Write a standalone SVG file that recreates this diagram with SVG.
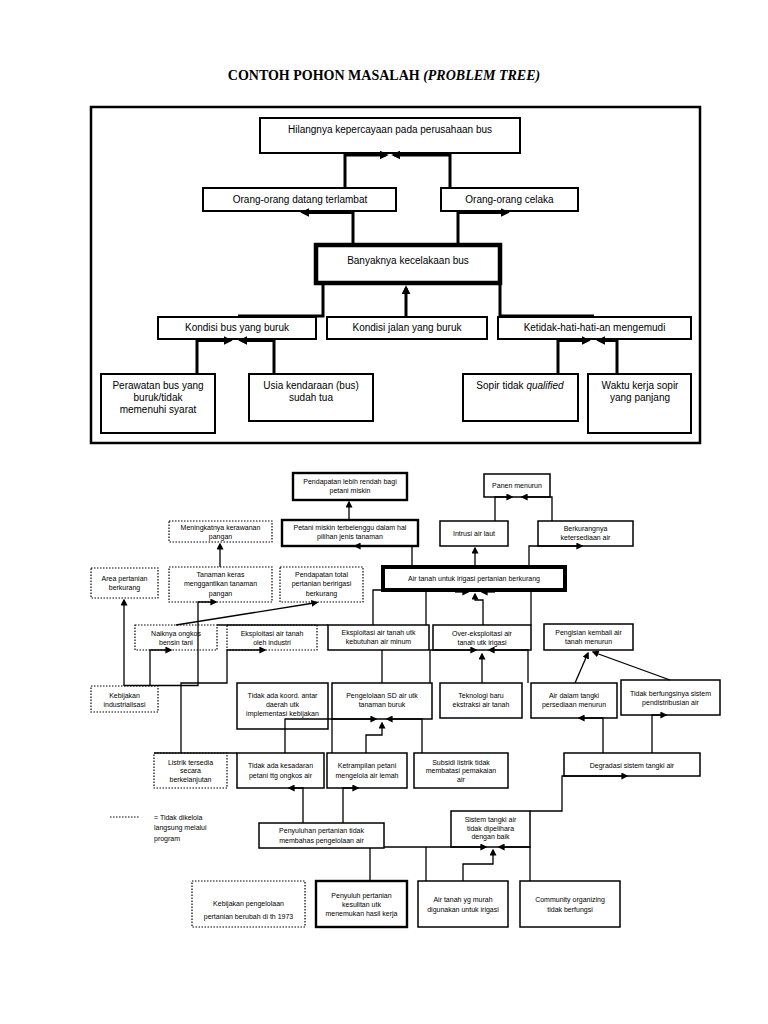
<svg xmlns="http://www.w3.org/2000/svg" width="768" height="1024" viewBox="0 0 768 1024">
<style>
.t{font-family:"Liberation Sans",Arial,sans-serif;font-size:10px;text-anchor:middle;fill:#000}
.s{font-size:7px}
.box{fill:#fff;stroke:#000;stroke-width:2}
.bx{fill:#fff;stroke:#000;stroke-width:1.5}
.hv{stroke-width:2.4}
.dot{fill:#fff;stroke:#000;stroke-width:1.2;stroke-dasharray:1.5 1.5}
.tc{fill:none;stroke:#000;stroke-width:3}
.bc{fill:none;stroke:#000;stroke-width:1.3}
</style>
<defs>
<marker id="ah" viewBox="0 0 10 10" refX="7" refY="5" markerWidth="9" markerHeight="9" markerUnits="userSpaceOnUse" orient="auto"><path d="M0,0 L10,5 L0,10 z" fill="#000"/></marker>
<marker id="as" viewBox="0 0 10 10" refX="8" refY="5" markerWidth="7" markerHeight="7" markerUnits="userSpaceOnUse" orient="auto"><path d="M0,0 L10,5 L0,10 z" fill="#000"/></marker>
</defs>
<rect width="768" height="1024" fill="#fff"/>
<text x="384" y="80" font-family="Liberation Serif,'Times New Roman',serif" font-weight="bold" font-size="14" text-anchor="middle">CONTOH POHON MASALAH <tspan font-style="italic">(PROBLEM TREE)</tspan></text>

<g id="frame"><rect x="91" y="107" width="609" height="336" fill="none" stroke="#000" stroke-width="2.5"/></g>

<g id="n_hilang"><rect class="box" x="260" y="118" width="260" height="35"/><text class="t" x="390" y="133">Hilangnya kepercayaan pada perusahaan bus</text></g>
<g id="n_datang"><rect class="box" x="203" y="188" width="193" height="23"/><text class="t" x="300" y="203">Orang-orang datang terlambat</text></g>
<g id="n_celaka"><rect class="box" x="441" y="188" width="137" height="23"/><text class="t" x="509.5" y="203">Orang-orang celaka</text></g>
<g id="n_banyak"><rect x="316" y="245" width="184" height="38" fill="#fff" stroke="#000" stroke-width="4.5"/><text class="t" x="408" y="264" font-size="12.5">Banyaknya kecelakaan bus</text></g>
<g id="n_kbus"><rect class="box" x="158" y="317" width="158" height="22"/><text class="t" x="237" y="331">Kondisi bus yang buruk</text></g>
<g id="n_kjalan"><rect class="box" x="327" y="317" width="160" height="22"/><text class="t" x="407" y="331">Kondisi jalan yang buruk</text></g>
<g id="n_ketidak"><rect class="box" x="498" y="317" width="193" height="22"/><text class="t" x="594.5" y="331">Ketidak-hati-hati-an mengemudi</text></g>
<g id="n_rawat"><rect class="box" x="101" y="374" width="114" height="59"/><text class="t" x="158" y="389">Perawatan bus yang</text><text class="t" x="158" y="401">buruk/tidak</text><text class="t" x="158" y="413">memenuhi syarat</text></g>
<g id="n_usia"><rect class="box" x="249" y="374" width="124" height="47"/><text class="t" x="311" y="389">Usia kendaraan (bus)</text><text class="t" x="311" y="401">sudah tua</text></g>
<g id="n_sopir"><rect class="box" x="463" y="374" width="115" height="47"/><text class="t" x="520" y="389">Sopir tidak <tspan font-style="italic">qualified</tspan></text></g>
<g id="n_waktu"><rect class="box" x="588" y="374" width="103" height="59"/><text class="t" x="640" y="389">Waktu kerja sopir</text><text class="t" x="640" y="401">yang panjang</text></g>

<g id="b_pendlebih"><rect class="bx hv" x="293" y="473" width="114" height="27"/><text class="t s" x="350" y="483.5">Pendapatan lebih rendah bagi</text><text class="t s" x="350" y="493">petani miskin</text></g>
<g id="b_petani"><rect class="bx hv" x="282" y="520" width="136" height="26"/><text class="t s" x="350" y="529.5">Petani miskin terbelenggu dalam hal</text><text class="t s" x="350" y="539">pilihan jenis tanaman</text></g>
<g id="b_rawan"><rect class="dot" x="169" y="521" width="103" height="21"/><text class="t s" x="220.5" y="529.5">Meningkatnya kerawanan</text><text class="t s" x="220.5" y="539">pangan</text></g>
<g id="b_panen"><rect class="bx" x="484" y="474" width="66" height="23"/><text class="t s" x="517" y="487.5">Panen menurun</text></g>
<g id="b_intrusi"><rect class="bx" x="440" y="521" width="68" height="25"/><text class="t s" x="474" y="535.5">Intrusi air laut</text></g>
<g id="b_berkurang"><rect class="bx" x="538" y="521" width="95" height="25"/><text class="t s" x="585.5" y="530.5">Berkurangnya</text><text class="t s" x="585.5" y="539.5">ketersediaan air</text></g>
<g id="b_airtanah"><rect x="383" y="567" width="182" height="23" fill="#fff" stroke="#000" stroke-width="4"/><text class="t s" x="474" y="581">Air tanah untuk irigasi pertanian berkurang</text></g>
<g id="b_area"><rect class="dot" x="91" y="568" width="67" height="30"/><text class="t s" x="124.5" y="580.5">Area pertanian</text><text class="t s" x="124.5" y="590">berkurang</text></g>
<g id="b_tanaman"><rect class="dot" x="169" y="567" width="103" height="35"/><text class="t s" x="220.5" y="576.5">Tanaman keras</text><text class="t s" x="220.5" y="586">menggantikan tanaman</text><text class="t s" x="220.5" y="595.5">pangan</text></g>
<g id="b_pendtotal"><rect class="dot" x="280" y="567" width="83" height="35"/><text class="t s" x="321.5" y="576.5">Pendapatan total</text><text class="t s" x="321.5" y="586">pertanian beririgasi</text><text class="t s" x="321.5" y="595.5">berkurang</text></g>
<g id="b_naik"><rect class="dot" x="135" y="625" width="82" height="25"/><text class="t s" x="176" y="635.5">Naiknya ongkos</text><text class="t s" x="176" y="644.5">bensin tani</text></g>
<g id="b_eksind"><rect class="dot" x="227" y="625" width="90" height="25"/><text class="t s" x="272" y="635.5">Eksploitasi air tanah</text><text class="t s" x="272" y="644.5">oleh industri</text></g>
<g id="b_eksmin"><rect class="bx" x="328" y="625" width="101" height="25"/><text class="t s" x="378.5" y="635">Eksploitasi air tanah utk</text><text class="t s" x="378.5" y="644">kebutuhan air minum</text></g>
<g id="b_over"><rect class="bx" x="433" y="625" width="98" height="25"/><text class="t s" x="482" y="635.5">Over-eksploitasi air</text><text class="t s" x="482" y="644.5">tanah utk irigasi</text></g>
<g id="b_pengisian"><rect class="bx" x="544" y="624" width="89" height="26"/><text class="t s" x="588.5" y="635">Pengisian kembali air</text><text class="t s" x="588.5" y="644">tanah menurun</text></g>
<g id="b_kebind"><rect class="dot" x="91" y="686" width="67" height="26"/><text class="t s" x="124.5" y="697.5">Kebijakan</text><text class="t s" x="124.5" y="706.5">industrialisasi</text></g>
<g id="b_koord"><rect class="bx" x="237" y="683" width="91" height="46"/><text class="t s" x="282.5" y="697.5">Tidak ada koord. antar</text><text class="t s" x="282.5" y="706.5">daerah utk</text><text class="t s" x="282.5" y="715.5">implementasi kebijakan</text></g>
<g id="b_pengelolaan"><rect class="bx" x="332" y="683" width="100" height="36"/><text class="t s" x="382" y="697.5">Pengelolaan SD air utk</text><text class="t s" x="382" y="706.5">tanaman buruk</text></g>
<g id="b_teknologi"><rect class="bx" x="440" y="683" width="82" height="35"/><text class="t s" x="481" y="697.5">Teknologi baru</text><text class="t s" x="481" y="706.5">ekstraksi air tanah</text></g>
<g id="b_tangki"><rect class="bx" x="531" y="683" width="86" height="35"/><text class="t s" x="574" y="697.5">Air dalam tangki</text><text class="t s" x="574" y="706.5">persediaan menurun</text></g>
<g id="b_distribusi"><rect class="bx" x="621" y="680" width="99" height="35"/><text class="t s" x="670.5" y="695.5">Tidak berfungsinya sistem</text><text class="t s" x="670.5" y="705">pendistribusian air</text></g>
<g id="b_listrik"><rect class="dot" x="154" y="753" width="73" height="35"/><text class="t s" x="190.5" y="764.5">Listrik tersedia</text><text class="t s" x="190.5" y="773">secara</text><text class="t s" x="190.5" y="781.5">berkelanjutan</text></g>
<g id="b_kesadaran"><rect class="bx" x="237" y="753" width="87" height="35"/><text class="t s" x="280.5" y="767.5">Tidak ada kesadaran</text><text class="t s" x="280.5" y="777.5">petani ttg ongkos air</text></g>
<g id="b_ketrampilan"><rect class="bx" x="327" y="753" width="80" height="35"/><text class="t s" x="367" y="767.5">Ketrampilan petani</text><text class="t s" x="367" y="777.5">mengelola air lemah</text></g>
<g id="b_subsidi"><rect class="bx" x="414" y="753" width="94" height="35"/><text class="t s" x="461" y="764.5">Subsidi listrik tidak</text><text class="t s" x="461" y="773">membatasi pemakaian</text><text class="t s" x="461" y="781.5">air</text></g>
<g id="b_degradasi"><rect class="bx" x="564" y="753" width="136" height="23"/><text class="t s" x="632" y="767.5">Degradasi sistem tangki air</text></g>
<g id="b_penyuluhan"><rect class="bx" x="259" y="823" width="125" height="25"/><text class="t s" x="321.5" y="832.5">Penyuluhan pertanian tidak</text><text class="t s" x="321.5" y="842.5">membahas pengelolaan air</text></g>
<g id="b_sistem"><rect class="bx" x="451" y="811" width="79" height="36"/><text class="t s" x="490.5" y="821.5">Sistem tangki air</text><text class="t s" x="490.5" y="830.5">tidak dipelihara</text><text class="t s" x="490.5" y="839">dengan baik</text></g>
<g id="b_kebpert"><rect class="dot" x="192" y="881" width="113" height="46"/><text class="t s" x="248.5" y="905.5">Kebijakan pengelolaan</text><text class="t s" x="248.5" y="919">pertanian berubah di th 1973</text></g>
<g id="b_penyuluh"><rect class="bx hv" x="316" y="881" width="91" height="46"/><text class="t s" x="361.5" y="897.5">Penyuluh pertanian</text><text class="t s" x="361.5" y="906.5">kesulitan utk</text><text class="t s" x="361.5" y="915.5">menemukan hasil kerja</text></g>
<g id="b_murah"><rect class="bx" x="418" y="881" width="90" height="46"/><text class="t s" x="463" y="901.5">Air tanah yg murah</text><text class="t s" x="463" y="911.5">digunakan untuk irigasi</text></g>
<g id="b_community"><rect class="bx" x="520" y="881" width="100" height="46"/><text class="t s" x="570" y="901.5">Community organizing</text><text class="t s" x="570" y="911.5">tidak berfungsi</text></g>

<g id="legend"><line x1="110" y1="817" x2="140" y2="817" stroke="#000" stroke-width="1" stroke-dasharray="1.5 1.5"/><text class="t s" x="154" y="819.5" text-anchor="start" style="text-anchor:start">= Tidak dikelola</text><text class="t s" x="154" y="830" style="text-anchor:start">langsung melalui</text><text class="t s" x="154" y="840.5" style="text-anchor:start">program</text></g>

<g id="connectors">
<path class="tc" d="M345,188 V155 H386" marker-end="url(#ah)"/>
<path class="tc" d="M450,188 V155 H394" marker-end="url(#ah)"/>
<path class="tc" d="M353,245 V212.5 H303" marker-end="url(#ah)"/>
<path class="tc" d="M458,245 V212.5 H507" marker-end="url(#ah)"/>
<path class="tc" d="M323,283 V316 H238"/>
<path class="tc" d="M500,283 V316 H594"/>
<path class="tc" d="M406,317 V288" marker-end="url(#ah)"/>
<path class="tc" d="M197,374 V340.5 H230" marker-end="url(#ah)"/>
<path class="tc" d="M274,374 V340.5 H241" marker-end="url(#ah)"/>
<path class="tc" d="M558,374 V340.5 H588" marker-end="url(#ah)"/>
<path class="tc" d="M617,374 V340.5 H599" marker-end="url(#ah)"/>

<path class="bc" d="M349,520 V502" marker-end="url(#as)"/>
<path class="bc" d="M412,567 V546 H355" marker-end="url(#as)"/>
<path class="bc" d="M220,567 V544" marker-end="url(#as)"/>
<path class="bc" d="M475,565 V548" marker-end="url(#as)"/>
<path class="bc" d="M529,565 V546 H582" marker-end="url(#as)"/>
<path class="bc" d="M495,521 V497 H512" marker-end="url(#as)"/>
<path class="bc" d="M552,521 V497 H522" marker-end="url(#as)"/>
<path class="bc" d="M383,590 H373 V625"/>
<path class="bc" d="M426,590 V625"/>
<path class="bc" d="M531,590 V625"/>
<path class="bc" d="M483,625 V600 H475 V594" marker-end="url(#as)"/>
<path class="bc" d="M455,592 H468" marker-end="url(#as)"/>
<path class="bc" d="M495,592 H482" marker-end="url(#as)"/>
<path class="bc" d="M382,650 V683"/>
<path class="bc" d="M430,683 V650 H476" marker-end="url(#as)"/>
<path class="bc" d="M528,683 V650 H489" marker-end="url(#as)"/>
<path class="bc" d="M482,683 V654" marker-end="url(#as)"/>
<path class="bc" d="M575,683 L588,653" marker-end="url(#as)"/>
<path class="bc" d="M670,680 L593,652" marker-end="url(#as)"/>
<path class="bc" d="M603,753 V718 H579" marker-end="url(#as)"/>
<path class="bc" d="M652,753 V715 H666" marker-end="url(#as)"/>
<path class="bc" d="M530,811 H562 V776 H627" marker-end="url(#as)"/>
<path class="bc" d="M530,881 V847 H499" marker-end="url(#as)"/>
<path class="bc" d="M463,881 V864 H493 V850" marker-end="url(#as)"/>
<path class="bc" d="M426,881 V847"/>
<path class="bc" d="M384,847 H486" marker-end="url(#as)"/>
<path class="bc" d="M370,881 V848"/>
<path class="bc" d="M303,823 V788 H289" marker-end="url(#as)"/>
<path class="bc" d="M343,823 V788 H358" marker-end="url(#as)"/>
<path class="bc" d="M285,753 V719 H376" marker-end="url(#as)"/>
<path class="bc" d="M422,753 V719 H387" marker-end="url(#as)"/>
<path class="bc" d="M366,753 V735 H382 V723" marker-end="url(#as)"/>
<path class="bc" d="M332,719 V753"/>
<path class="bc" d="M181,753 V683 H227 V650 H265" marker-end="url(#as)"/>
<path class="bc" d="M154,753 H237"/>
<path class="bc" d="M124,686 V600" marker-end="url(#as)"/>
<path class="bc" d="M124,685.5 H198 V602 H216" marker-end="url(#as)"/>
<path class="bc" d="M150,685.5 V650 H171" marker-end="url(#as)"/>
<path class="bc" d="M176,625 L317,602.5" marker-end="url(#as)"/>
<path class="bc" d="M217,625 H328"/>
</g>
</svg>
